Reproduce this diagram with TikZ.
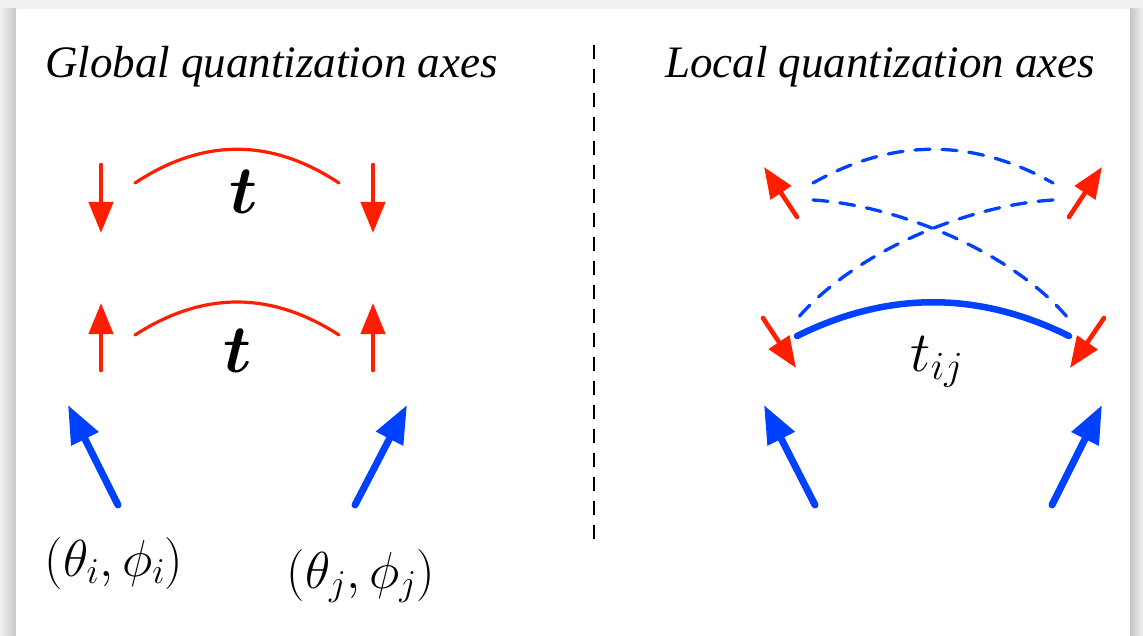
\RequirePackage{fix-cm}
\documentclass[tikz,border=0pt]{standalone}
\usepackage{amsmath}
\usepackage{fontspec}
\setmainfont{Liberation Serif}
\usetikzlibrary{arrows.meta}
\definecolor{rd}{RGB}{255,30,0}
\definecolor{bl}{RGB}{0,64,255}
\tikzset{
  redarrow/.style={draw=rd,line width=4.6pt,line cap=round,-{Triangle[length=31pt,width=24pt]}},
  bluearrow/.style={draw=bl,line width=7pt,line cap=round,-{Triangle[length=38pt,width=29pt]}},
  redarc/.style={draw=rd,line width=3.2pt,line cap=round},
  thickarc/.style={draw=bl,line width=6.5pt,line cap=round},
  dasharc/.style={draw=bl,line width=3.3pt,line cap=round,dash pattern=on 15pt off 12pt},
  title/.style={anchor=base west,inner sep=0pt,font=\fontsize{45}{50}\selectfont\itshape},
  mlabel/.style={inner sep=0pt,font=\fontsize{52}{58}\selectfont},
  tijlabel/.style={inner sep=0pt,font=\fontsize{57}{62}\selectfont},
  tlabel/.style={inner sep=0pt,font=\fontsize{68}{74}\selectfont},
}
\begin{document}
\begin{tikzpicture}[x=1pt,y=-1pt]
% background and shadow
\fill[gray!12] (0,0) rectangle (1143,636);
\shade[left color=gray!10,right color=gray!45] (0,9) rectangle (16,636);
\shade[left color=gray!45,right color=gray!12] (1130,9) rectangle (1143,636);
\fill[white] (16,9) rectangle (1130,636);
\useasboundingbox (0,0) rectangle (1143,636);

% titles
\node[title] (gt) at (45,78) {Global quantization axes};
\node[title] (lt) at (665,78) {Local quantization axes};

% divider
\coordinate (d1) at (594,45);
\coordinate (d2) at (594,545);
\draw[line width=2.8pt,dash pattern=on 14pt off 10pt] (d1) -- (d2);

% ---------- left panel ----------
\coordinate (a1s) at (101,165); \coordinate (a1e) at (101,233);
\coordinate (a2s) at (373,165); \coordinate (a2e) at (373,233);
\coordinate (a3s) at (101,370); \coordinate (a3e) at (101,303);
\coordinate (a4s) at (373,370); \coordinate (a4e) at (373,303);
\draw[redarrow] (a1s) -- (a1e);
\draw[redarrow] (a2s) -- (a2e);
\draw[redarrow] (a3s) -- (a3e);
\draw[redarrow] (a4s) -- (a4e);

\coordinate (c1a) at (135,183); \coordinate (c1b) at (339,183);
\draw[redarc] (c1a) .. controls (203,138) and (271,138) .. (c1b);
\coordinate (c2a) at (135,335); \coordinate (c2b) at (339,335);
\draw[redarc] (c2a) .. controls (203,291) and (271,291) .. (c2b);

\node[tlabel] (t1) at (244,192) {$\boldsymbol{t}$};
\node[tlabel] (t2) at (238,351) {$\boldsymbol{t}$};

\coordinate (b1s) at (118,505); \coordinate (b1e) at (68,405);
\coordinate (b2s) at (355,505); \coordinate (b2e) at (407,405);
\draw[bluearrow] (b1s) -- (b1e);
\draw[bluearrow] (b2s) -- (b2e);

\node[mlabel] (li) at (114,563) {$(\theta_i,\phi_i)$};
\node[mlabel] (lj) at (361,576) {$(\theta_j,\phi_j)$};

% ---------- right panel ----------
\coordinate (r1s) at (797,217); \coordinate (r1e) at (764,167);
\coordinate (r2s) at (1069,217); \coordinate (r2e) at (1102,167);
\coordinate (r3s) at (763,318); \coordinate (r3e) at (796,368);
\coordinate (r4s) at (1104,318); \coordinate (r4e) at (1070,368);
\draw[redarrow] (r1s) -- (r1e);
\draw[redarrow] (r2s) -- (r2e);
\draw[redarrow] (r3s) -- (r3e);
\draw[redarrow] (r4s) -- (r4e);

\coordinate (p1) at (813,183); \coordinate (p2) at (1053,183);
\coordinate (p3) at (813,200); \coordinate (p4) at (1053,200);
\coordinate (p5) at (797,319); \coordinate (p6) at (1068,318);
\draw[dasharc] (p1) .. controls (893,138) and (973,138) .. (p2);
\draw[dasharc] (p3) .. controls (895,205) and (1010,250) .. (p6);
\draw[dasharc] (p4) .. controls (970,205) and (856,250) .. (p5);

\coordinate (q1) at (797,336); \coordinate (q2) at (1069,336);
\draw[thickarc] (q1) .. controls (888,291) and (978,291) .. (q2);

\node[tijlabel] (tij) at (937,362) {$t_{ij}$};

\coordinate (b3s) at (815,505); \coordinate (b3e) at (764,405);
\coordinate (b4s) at (1052,505); \coordinate (b4e) at (1102,405);
\draw[bluearrow] (b3s) -- (b3e);
\draw[bluearrow] (b4s) -- (b4e);
\end{tikzpicture}
\end{document}
